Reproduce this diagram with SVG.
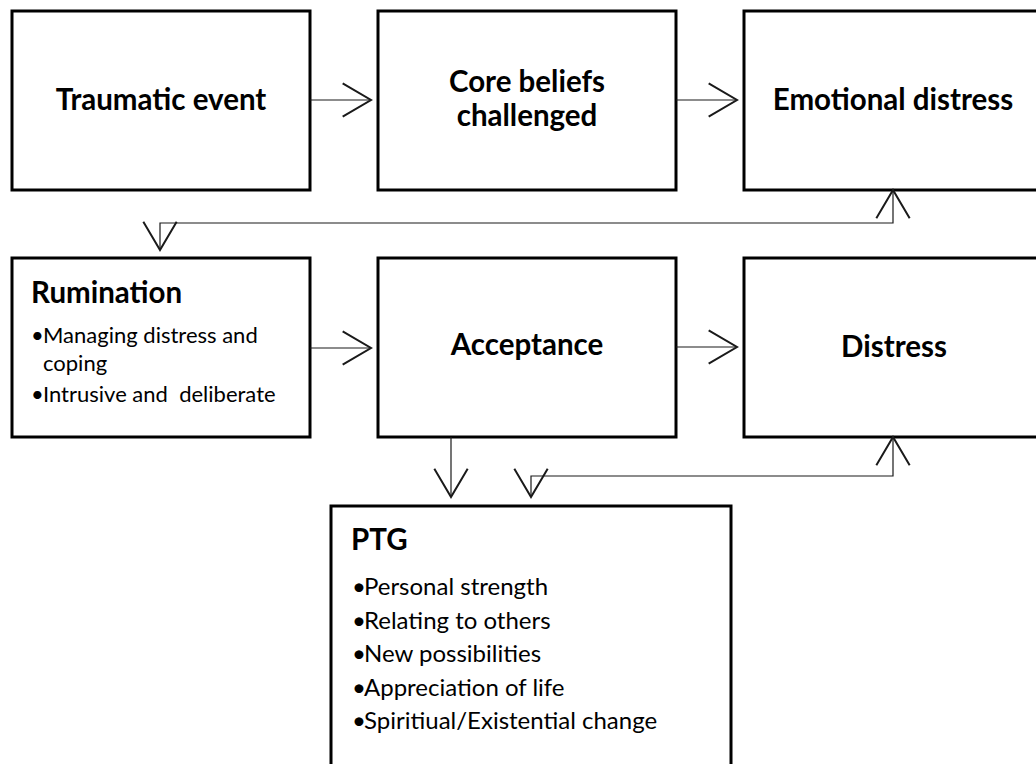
<svg xmlns="http://www.w3.org/2000/svg" width="1036" height="764" viewBox="0 0 1036 764">
  <style>
    .box { fill: #ffffff; stroke: #000000; stroke-width: 3; }
    .link { fill: none; stroke: #1a1a1a; stroke-width: 1.2; }
    .title { font-family: Lato, "Open Sans", "Liberation Sans", sans-serif; font-weight: bold; font-size: 29.5px; fill: #000000; }
    .mid { text-anchor: middle; }
    .item { font-family: Lato, "Open Sans", "Liberation Sans", sans-serif; font-size: 22px; fill: #000000; }
    .item-lg { font-family: Lato, "Open Sans", "Liberation Sans", sans-serif; font-size: 24px; fill: #000000; }
  </style>
  <defs>
    <marker id="chevron" markerUnits="userSpaceOnUse" markerWidth="40" markerHeight="40" viewBox="-20 -12 22 24" refX="0" refY="0" orient="auto-start-reverse" overflow="visible">
      <path d="M-17,-10 L0,0 L-17,10" fill="none" stroke="#1a1a1a" stroke-width="1.2"/>
    </marker>
  </defs>

  <rect width="1036" height="764" fill="#ffffff"/>

  <!-- Top row -->
  <g id="traumatic-event">
    <rect class="box" x="12" y="11" width="298" height="179"/>
    <text class="title mid" x="161" y="110">Traumatic event</text>
  </g>
  <g id="core-beliefs">
    <rect class="box" x="378" y="11" width="298" height="179"/>
    <text class="title mid" x="527" y="92">Core beliefs</text>
    <text class="title mid" x="527" y="126">challenged</text>
  </g>
  <g id="emotional-distress">
    <rect class="box" x="744" y="11" width="298" height="179"/>
    <text class="title mid" x="893" y="110">Emotional distress</text>
  </g>

  <!-- Middle row -->
  <g id="rumination">
    <rect class="box" x="12" y="258" width="298" height="179"/>
    <text class="title" x="31" y="303">Rumination</text>
    <text class="item" x="31" y="343">•</text>
    <text class="item" x="43" y="343">Managing distress and</text>
    <text class="item" x="43" y="371">coping</text>
    <text class="item" x="31" y="402">•</text>
    <text class="item" x="43" y="402" xml:space="preserve">Intrusive and  deliberate</text>
  </g>
  <g id="acceptance">
    <rect class="box" x="378" y="258" width="298" height="179"/>
    <text class="title mid" x="527" y="355">Acceptance</text>
  </g>
  <g id="distress">
    <rect class="box" x="744" y="258" width="298" height="179"/>
    <text class="title mid" x="894" y="357">Distress</text>
  </g>

  <!-- Outcome -->
  <g id="ptg">
    <rect class="box" x="331" y="506" width="400" height="270"/>
    <text class="title" x="351" y="550">PTG</text>
    <text class="item-lg" x="352" y="595">•</text>
    <text class="item-lg" x="364" y="595">Personal strength</text>
    <text class="item-lg" x="352" y="628.5">•</text>
    <text class="item-lg" x="364" y="628.5">Relating to others</text>
    <text class="item-lg" x="352" y="662">•</text>
    <text class="item-lg" x="364" y="662">New possibilities</text>
    <text class="item-lg" x="352" y="695.5">•</text>
    <text class="item-lg" x="364" y="695.5">Appreciation of life</text>
    <text class="item-lg" x="352" y="729">•</text>
    <text class="item-lg" x="364" y="729">Spiritiual/Existential change</text>
  </g>

  <!-- Connectors -->
  <g id="connectors">
    <path class="link" d="M310,100 L371,100" marker-end="url(#chevron)"/>
    <path class="link" d="M676,100 L737,100" marker-end="url(#chevron)"/>
    <path class="link" d="M893,190 L893,223 L160,223 L160,250" marker-start="url(#chevron)" marker-end="url(#chevron)"/>
    <path class="link" d="M310,348 L371,348" marker-end="url(#chevron)"/>
    <path class="link" d="M676,347 L737,347" marker-end="url(#chevron)"/>
    <path class="link" d="M451,437 L451,497" marker-end="url(#chevron)"/>
    <path class="link" d="M893,437 L893,476 L531,476 L531,497" marker-start="url(#chevron)" marker-end="url(#chevron)"/>
  </g>
</svg>
